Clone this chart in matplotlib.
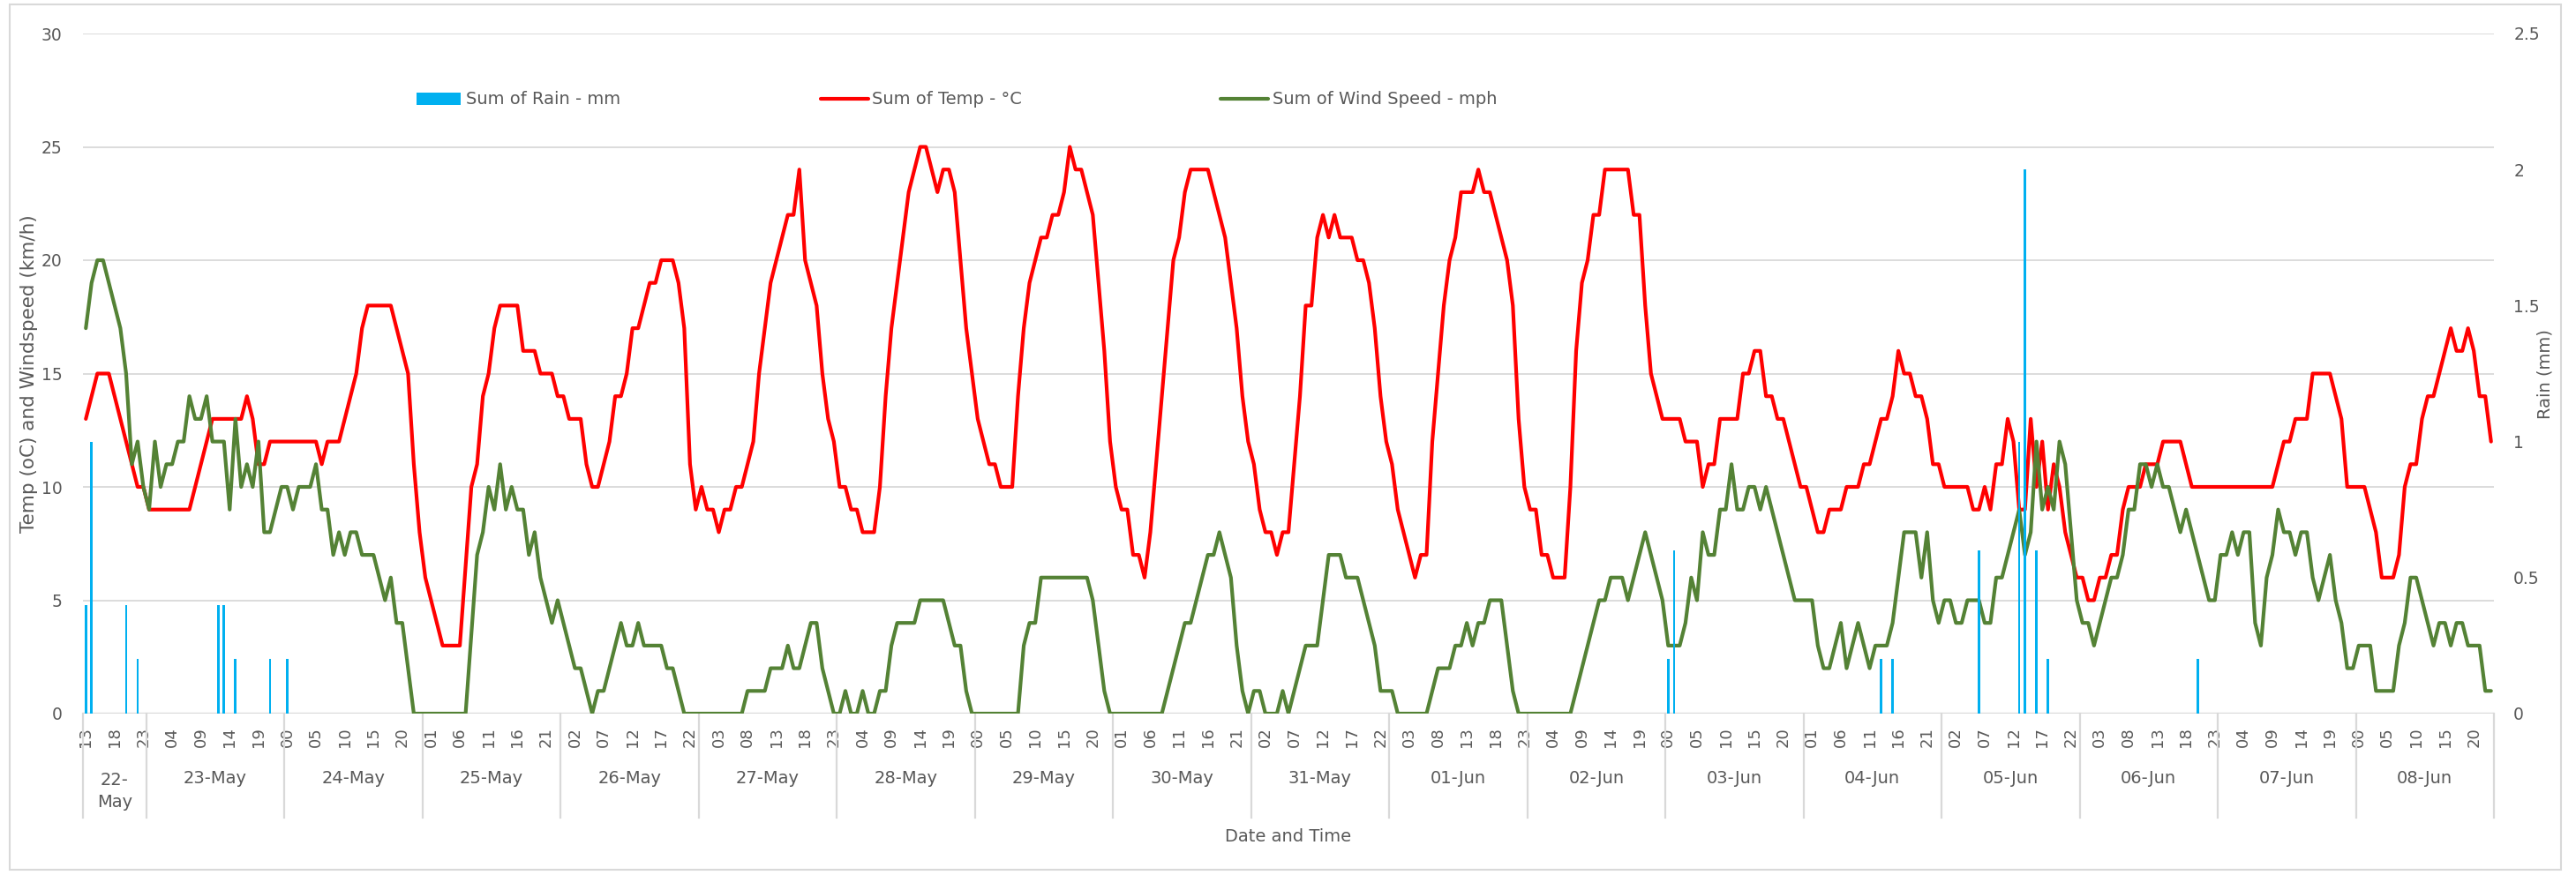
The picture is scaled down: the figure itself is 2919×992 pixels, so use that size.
import numpy as np
import pandas as pd
import matplotlib
matplotlib.use("Agg")
import matplotlib.pyplot as plt
from matplotlib.patches import Rectangle
from matplotlib.lines import Line2D

# ---------------- data (hourly, 22-May 13:00 .. 08-Jun 23:00) ----------------
start_time = "2023-05-22 13:00"
end_time = "2023-06-08 23:00"

temp_c = (
    [13, 14, 15, 15, 15, 14, 13, 12, 11, 10, 10] +                                            # 22-May
    [9, 9, 9, 9, 9, 9, 9, 9, 10, 11, 12, 13, 13, 13, 13, 13, 13, 14, 13, 11, 11, 12, 12, 12] +    # 23-May
    [12, 12, 12, 12, 12, 12, 11, 12, 12, 12, 13, 14, 15, 17, 18, 18, 18, 18, 18, 17, 16, 15, 11, 8] +  # 24-May
    [6, 5, 4, 3, 3, 3, 3, 6.5, 10, 11, 14, 15, 17, 18, 18, 18, 18, 16, 16, 16, 15, 15, 15, 14] +  # 25-May
    [14, 13, 13, 13, 11, 10, 10, 11, 12, 14, 14, 15, 17, 17, 18, 19, 19, 20, 20, 20, 19, 17, 11, 9] +  # 26-May
    [10, 9, 9, 8, 9, 9, 10, 10, 11, 12, 15, 17, 19, 20, 21, 22, 22, 24, 20, 19, 18, 15, 13, 12] +  # 27-May
    [10, 10, 9, 9, 8, 8, 8, 10, 14, 17, 19, 21, 23, 24, 25, 25, 24, 23, 24, 24, 23, 20, 17, 15] +  # 28-May
    [13, 12, 11, 11, 10, 10, 10, 14, 17, 19, 20, 21, 21, 22, 22, 23, 25, 24, 24, 23, 22, 19, 16, 12] +  # 29-May
    [10, 9, 9, 7, 7, 6, 8, 11, 14, 17, 20, 21, 23, 24, 24, 24, 24, 23, 22, 21, 19, 17, 14, 12] +  # 30-May
    [11, 9, 8, 8, 7, 8, 8, 11, 14, 18, 18, 21, 22, 21, 22, 21, 21, 21, 20, 20, 19, 17, 14, 12] +  # 31-May
    [11, 9, 8, 7, 6, 7, 7, 12, 15, 18, 20, 21, 23, 23, 23, 24, 23, 23, 22, 21, 20, 18, 13, 10] +  # 01-Jun
    [9, 9, 7, 7, 6, 6, 6, 10, 16, 19, 20, 22, 22, 24, 24, 24, 24, 24, 22, 22, 18, 15, 14, 13] +  # 02-Jun
    [13, 13, 13, 12, 12, 12, 10, 11, 11, 13, 13, 13, 13, 15, 15, 16, 16, 14, 14, 13, 13, 12, 11, 10] +  # 03-Jun
    [10, 9, 8, 8, 9, 9, 9, 10, 10, 10, 11, 11, 12, 13, 13, 14, 16, 15, 15, 14, 14, 13, 11, 11] +  # 04-Jun
    [10, 10, 10, 10, 10, 9, 9, 10, 9, 11, 11, 13, 12, 9, 9, 13, 10, 12, 9, 11, 10, 8, 7, 6] +  # 05-Jun
    [6, 5, 5, 6, 6, 7, 7, 9, 10, 10, 10, 11, 11, 11, 12, 12, 12, 12, 11, 10, 10, 10, 10, 10] +  # 06-Jun
    [10, 10, 10, 10, 10, 10, 10, 10, 10, 10, 11, 12, 12, 13, 13, 13, 15, 15, 15, 15, 14, 13, 10, 10] +  # 07-Jun
    [10, 10, 9, 8, 6, 6, 6, 7, 10, 11, 11, 13, 14, 14, 15, 16, 17, 16, 16, 17, 16, 14, 14, 12]     # 08-Jun
)

wind_speed = (
    [17, 19, 20, 20, 19, 18, 17, 15, 11, 12, 10] +
    [9, 12, 10, 11, 11, 12, 12, 14, 13, 13, 14, 12, 12, 12, 9, 13, 10, 11, 10, 12, 8, 8, 9, 10] +
    [10, 9, 10, 10, 10, 11, 9, 9, 7, 8, 7, 8, 8, 7, 7, 7, 6, 5, 6, 4, 4, 2, 0, 0] +
    [0, 0, 0, 0, 0, 0, 0, 0, 3.5, 7, 8, 10, 9, 11, 9, 10, 9, 9, 7, 8, 6, 5, 4, 5] +
    [4, 3, 2, 2, 1, 0, 1, 1, 2, 3, 4, 3, 3, 4, 3, 3, 3, 3, 2, 2, 1, 0, 0, 0] +
    [0, 0, 0, 0, 0, 0, 0, 0, 1, 1, 1, 1, 2, 2, 2, 3, 2, 2, 3, 4, 4, 2, 1, 0] +
    [0, 1, 0, 0, 1, 0, 0, 1, 1, 3, 4, 4, 4, 4, 5, 5, 5, 5, 5, 4, 3, 3, 1, 0] +
    [0, 0, 0, 0, 0, 0, 0, 0, 3, 4, 4, 6, 6, 6, 6, 6, 6, 6, 6, 6, 5, 3, 1, 0] +
    [0, 0, 0, 0, 0, 0, 0, 0, 0, 1, 2, 3, 4, 4, 5, 6, 7, 7, 8, 7, 6, 3, 1, 0] +
    [1, 1, 0, 0, 0, 1, 0, 1, 2, 3, 3, 3, 5, 7, 7, 7, 6, 6, 6, 5, 4, 3, 1, 1] +
    [1, 0, 0, 0, 0, 0, 0, 1, 2, 2, 2, 3, 3, 4, 3, 4, 4, 5, 5, 5, 3, 1, 0, 0] +
    [0, 0, 0, 0, 0, 0, 0, 0, 1, 2, 3, 4, 5, 5, 6, 6, 6, 5, 6, 7, 8, 7, 6, 5] +
    [3, 3, 3, 4, 6, 5, 8, 7, 7, 9, 9, 11, 9, 9, 10, 10, 9, 10, 9, 8, 7, 6, 5, 5] +
    [5, 5, 3, 2, 2, 3, 4, 2, 3, 4, 3, 2, 3, 3, 3, 4, 6, 8, 8, 8, 6, 8, 5, 4] +
    [5, 5, 4, 4, 5, 5, 5, 4, 4, 6, 6, 7, 8, 9, 7, 8, 12, 9, 10, 9, 12, 11, 8, 5] +
    [4, 4, 3, 4, 5, 6, 6, 7, 9, 9, 11, 11, 10, 11, 10, 10, 9, 8, 9, 8, 7, 6, 5, 5] +
    [7, 7, 8, 7, 8, 8, 4, 3, 6, 7, 9, 8, 8, 7, 8, 8, 6, 5, 6, 7, 5, 4, 2, 2] +
    [3, 3, 3, 1, 1, 1, 1, 3, 4, 6, 6, 5, 4, 3, 4, 4, 3, 4, 4, 3, 3, 3, 1, 1]
)

rain_mm = (
    [0.4, 1.0, 0, 0, 0, 0, 0, 0.4, 0, 0.2, 0] +
    [0, 0, 0, 0, 0, 0, 0, 0, 0, 0, 0, 0, 0.4, 0.4, 0, 0.2, 0, 0, 0, 0, 0, 0.2, 0, 0] +
    [0.2] + [0] * 23 +
    [0] * 24 + [0] * 24 + [0] * 24 + [0] * 24 + [0] * 24 + [0] * 24 + [0] * 24 + [0] * 24 + [0] * 24 +
    [0.2, 0.6] + [0] * 22 +                                                                   # 03-Jun
    [0, 0, 0, 0, 0, 0, 0, 0, 0, 0, 0, 0, 0, 0.2, 0, 0.2, 0, 0, 0, 0, 0, 0, 0, 0] +             # 04-Jun
    [0, 0, 0, 0, 0, 0, 0.6, 0, 0, 0, 0, 0, 0, 1.0, 2.0, 0, 0.6, 0, 0.2, 0, 0, 0, 0, 0] +       # 05-Jun
    [0] * 20 + [0.2, 0, 0, 0] +                                                               # 06-Jun
    [0] * 24 + [0] * 24
)

temp_ticks = [0, 5, 10, 15, 20, 25, 30]
rain_ticks = [0, 0.5, 1, 1.5, 2, 2.5]
rain_tick_labels = ["0", "0.5", "1", "1.5", "2", "2.5"]

# ---------------- figure ----------------
W, H = 2919, 992
fig = plt.figure(figsize=(W / 100, H / 100), dpi=100)
fig.patch.set_facecolor("white")

def fx(px):
    return px / W

def fy(py):
    return 1 - py / H

TXT = "#595959"
GRID = "#D9D9D9"
RED = "#FF0000"
GREEN = "#548235"
BLUE = "#00B0F0"
LW = 3.0

L, R, T, B = 94, 2826, 38, 809
ax = fig.add_axes([fx(L), fy(B), (R - L) / W, (B - T) / H])
ax2 = ax.twinx()

times = pd.date_range(start_time, end_time, freq="h")
x = np.arange(len(times))

ax.plot(x, temp_c, color=RED, lw=LW, solid_joinstyle="round", solid_capstyle="round", zorder=3)
ax.plot(x, wind_speed, color=GREEN, lw=LW, solid_joinstyle="round", solid_capstyle="round", zorder=3)
ax2.bar(x, rain_mm, width=0.4, color=BLUE, zorder=2)

ax.set_xlim(-0.5, len(x) - 0.5)
ax.set_ylim(0, 30)
ax2.set_ylim(0, 2.5)
ax.set_yticks(temp_ticks)
ax2.set_yticks(rain_ticks)
ax2.set_yticklabels(rain_tick_labels)
ax.yaxis.grid(True, color=GRID, lw=1.3)
ax.set_axisbelow(True)

for a in (ax, ax2):
    for s in ("left", "right", "top", "bottom"):
        a.spines[s].set_visible(False)
ax.axhline(0, color=GRID, lw=1.6, zorder=1)

ax.tick_params(axis="y", length=0, pad=17, labelsize=13.5, labelcolor=TXT)
ax2.tick_params(axis="y", length=0, pad=16, labelsize=13.5, labelcolor=TXT)

# hour tick labels every 5 categories
xt = x[::5]
ax.set_xticks(xt)
ax.set_xticklabels(times[::5].strftime("%H"), rotation=90, fontsize=13, color=TXT)
ax.tick_params(axis="x", length=0, pad=11)

# day groups
day_keys = times.normalize()
bounds = [0] + [i for i in range(1, len(times)) if day_keys[i] != day_keys[i - 1]] + [len(times)]
xtr = ax.get_xaxis_transform()
sep_bottom = (B - 927) / (B - T)
for b in bounds:
    ax.plot([b - 0.5, b - 0.5], [0, sep_bottom], transform=xtr, color=GRID, lw=1.6, clip_on=False)
for s0, s1 in zip(bounds[:-1], bounds[1:]):
    lab = times[s0].strftime("%d-%b")
    cx = (s0 + s1 - 1) / 2
    if s1 - s0 < 15:
        lab = lab.replace("-", "-\n", 1)
        yy = (B - 897) / (B - T)
    else:
        yy = (B - 883) / (B - T)
    ax.text(cx, yy, lab, transform=xtr, ha="center", va="center", fontsize=14,
            color=TXT, clip_on=False, linespacing=1.45)

# axis titles
fig.text(fx((L + R) / 2), fy(948), "Date and Time", ha="center", va="center", fontsize=14, color=TXT)
fig.text(fx(33), fy(424), "Temp (oC) and Windspeed (km/h)", rotation=90, ha="center", va="center",
         fontsize=15.5, color=TXT)
fig.text(fx(2884), fy(424), "Rain (mm)", rotation=90, ha="center", va="center", fontsize=14, color=TXT)

# legend (manual, top)
LY = 112
fig.add_artist(Rectangle((fx(472), fy(LY + 7)), (522 - 472) / W, 14 / H, transform=fig.transFigure,
                         facecolor=BLUE, edgecolor="none"))
fig.text(fx(528), fy(LY), "Sum of Rain - mm", ha="left", va="center", fontsize=14, color=TXT)
fig.add_artist(Line2D([fx(930), fx(984)], [fy(LY), fy(LY)], transform=fig.transFigure, color=RED,
                      lw=LW, solid_capstyle="round"))
fig.text(fx(988), fy(LY), "Sum of Temp - °C", ha="left", va="center", fontsize=14, color=TXT)
fig.add_artist(Line2D([fx(1383), fx(1437)], [fy(LY), fy(LY)], transform=fig.transFigure, color=GREEN,
                      lw=LW, solid_capstyle="round"))
fig.text(fx(1442), fy(LY), "Sum of Wind Speed - mph", ha="left", va="center", fontsize=14, color=TXT)

# chart border
fig.add_artist(Rectangle((fx(11), fy(986)), (2902 - 11) / W, (986 - 5) / H, transform=fig.transFigure,
                         facecolor="none", edgecolor=GRID, lw=1.5))

fig.savefig("out.png", dpi=100, facecolor="white")
